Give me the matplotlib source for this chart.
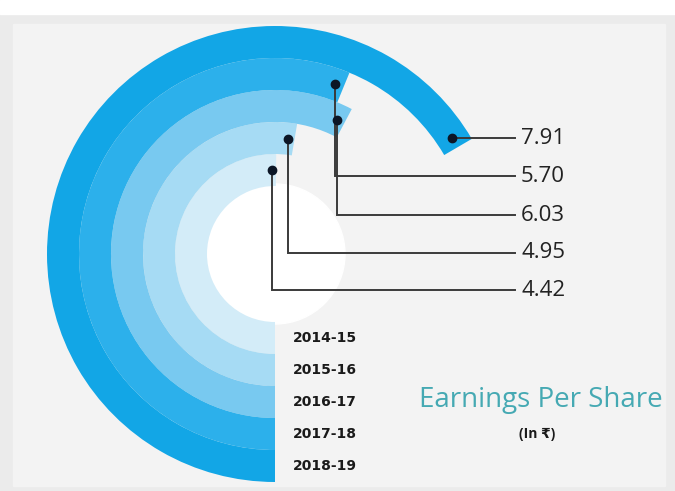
import numpy as np
import matplotlib.pyplot as plt
from matplotlib.patches import Wedge, Circle

# data, innermost ring first
years = ["2014-15", "2015-16", "2016-17", "2017-18", "2018-19"]
eps = [4.42, 4.95, 6.03, 5.70, 7.91]
ring_colors = ["#d3ecf8", "#a6dbf4", "#78c9f0", "#2cb0eb", "#12a6e6"]

# label rows on the right, top to bottom: outermost ring first
label_rows = [116, 78, 39, 1, -36]

INNER = 68
RING_W = 32
START = 270.0          # arcs start straight down and run clockwise
DEG_PER_UNIT = 16.9
DEG_OFFSET = 106.0


def sweep(v):
    return DEG_OFFSET + DEG_PER_UNIT * v


fig = plt.figure(figsize=(6.75, 4.91), dpi=100, facecolor="#ebebeb")
ax = fig.add_axes([0, 0, 1, 1])
ax.set_xlim(-275, 400)
ax.set_ylim(-237, 254)
ax.set_facecolor("#ebebeb")
ax.axis("off")

# lighter card behind the chart, white strip on top
ax.add_patch(plt.Rectangle((-262, -232), 652, 462, color="#f3f3f3", zorder=0))
ax.add_patch(plt.Rectangle((-275, 240), 675, 14, color="white", zorder=0))
ax.add_patch(Circle((0, 0), INNER + 2, color="white", zorder=1))

dots = []
for i, (v, c) in enumerate(zip(eps, ring_colors)):
    r_out = INNER + RING_W * (i + 1)
    end = START - sweep(v)
    ax.add_patch(Wedge((0, 0), r_out, end, START, width=RING_W,
                       facecolor=c, edgecolor="none", zorder=2))
    r_mid = r_out - RING_W / 2
    a = np.deg2rad(end + 3)
    dots.append((r_mid * np.cos(a), r_mid * np.sin(a)))
    ax.text(18, -r_mid, years[i], ha="left", va="center", fontsize=10,
            fontweight="bold", color="#1a1a1a", zorder=5)

# leader lines and value labels (outermost ring on top)
for row, i in zip(label_rows, range(len(eps) - 1, -1, -1)):
    xd, yd = dots[i]
    ax.plot([xd, xd, 240], [yd, row, row], color="#3a3a3a", lw=1.4,
            zorder=4, solid_joinstyle="miter")
    ax.plot(xd, yd, "o", ms=6, color="#0c1626", zorder=6)
    ax.text(246, row, f"{eps[i]:.2f}", ha="left", va="center",
            fontsize=16, color="#222222", family=["Open Sans", "DejaVu Sans"])

ax.text(266, -146, "Earnings Per Share", ha="center", va="center",
        fontsize=20, color="#45a9b3", family=["Open Sans", "DejaVu Sans"])
ax.text(262, -180, "(In ₹)", ha="center", va="center", fontsize=10,
        fontweight="bold", color="#1a1a1a",
        family=["Open Sans", "DejaVu Sans"])

fig.savefig("out.png", dpi=100, facecolor=fig.get_facecolor())
